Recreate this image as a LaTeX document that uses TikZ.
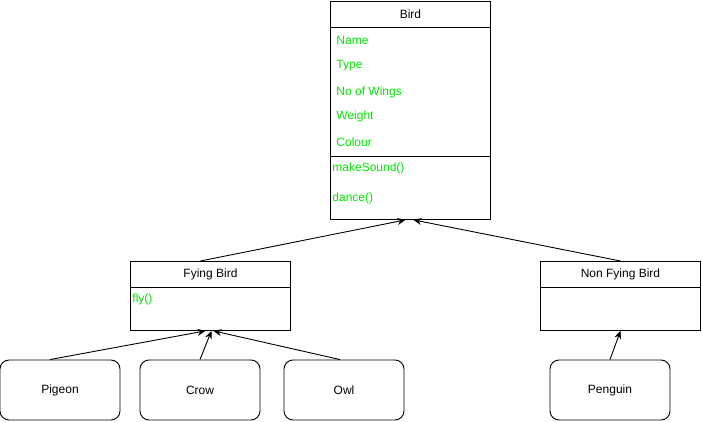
\documentclass[tikz,border=0pt]{standalone}
\usepackage{fontspec}
\setmainfont{Liberation Sans}
\usetikzlibrary{arrows.meta}
\definecolor{attrgreen}{RGB}{0,230,0}
\begin{document}
\begin{tikzpicture}[x=1pt, y=-1pt, line width=0.9pt,
    font=\fontsize{12}{14}\selectfont,
    part/.style={rectangle, draw, anchor=north west, minimum width=160pt, inner sep=0pt},
    leaf/.style={rectangle, draw, rounded corners=9pt, minimum width=120pt, minimum height=60pt, inner sep=0pt},
    member/.style={anchor=west, text=attrgreen, inner sep=0pt},
    inherit/.style={-{Stealth[length=8pt, width=7pt]}}]
\useasboundingbox (0,0) rectangle (702,422);

% Nodes
\node [part, minimum height=26pt] (bird) at (330,1) {};
\node at (bird.center) {Bird};
\node [part, minimum height=129pt] (birdattr) at (330,27) {};
\node [part, minimum height=63pt] (birdops) at (330,156) {};
\node [member] at (336,40) {Name};
\node [member] at (336,66) {Type};
\node [member] at (336,92) {No of Wings};
\node [member] at (336,116) {Weight};
\node [member] at (336,142) {Colour};
\node [member] at (332,168) {makeSound()};
\node [member] at (332,198) {dance()};

\node [part, minimum height=26pt] (flying) at (130,261) {};
\node at (flying.center) {Fying Bird};
\node [part, minimum height=43pt] (flyingops) at (130,287) {};
\node [member] at (132,299) {fly()};

\node [part, minimum height=26pt] (nonflying) at (540,261) {};
\node at (nonflying.center) {Non Fying Bird};
\node [part, minimum height=43pt] (nonflyingops) at (540,287) {};

\node [leaf] (pigeon) at (60,390) {Pigeon};
\node [leaf] (crow) at (200,390) {Crow};
\node [leaf] (owl) at (344,390) {Owl};
\node [leaf] (penguin) at (610,390) {Penguin};

% Arrows
\draw [inherit] ([xshift=-10pt]flying.north) -- ([xshift=-5pt]birdops.south);
\draw [inherit] (nonflying.north) -- ([xshift=3pt]birdops.south);
\draw [inherit] ([xshift=-10pt]pigeon.north) -- ([xshift=-5pt]flyingops.south);
\draw [inherit] (crow.north) -- ([xshift=1pt]flyingops.south);
\draw [inherit] ([xshift=-4pt]owl.north) -- ([xshift=3pt]flyingops.south);
\draw [inherit] (penguin.north) -- (nonflyingops.south);

\end{tikzpicture}
\end{document}
